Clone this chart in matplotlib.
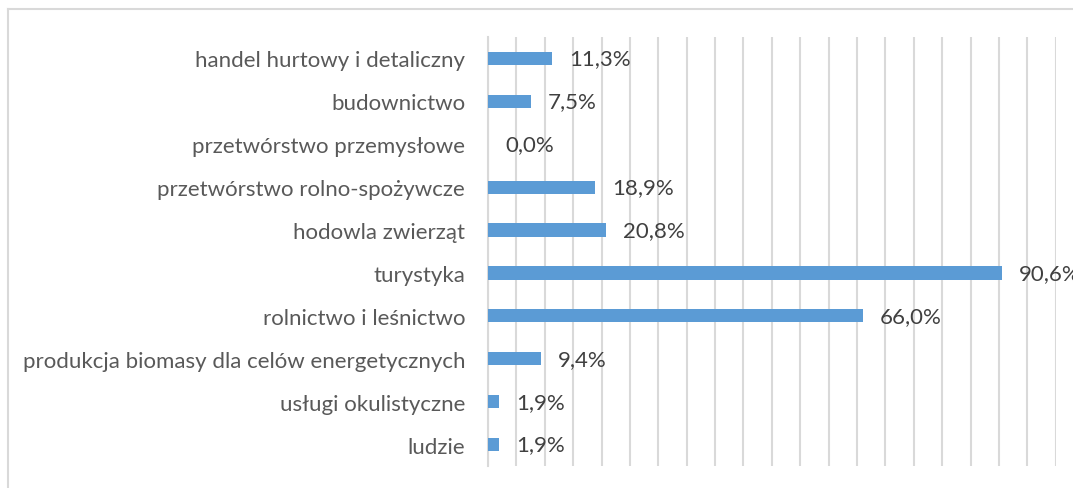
import matplotlib
matplotlib.use("Agg")
import matplotlib.pyplot as plt

categories = [
    "handel hurtowy i detaliczny",
    "budownictwo",
    "przetwórstwo przemysłowe",
    "przetwórstwo rolno-spożywcze",
    "hodowla zwierząt",
    "turystyka",
    "rolnictwo i leśnictwo",
    "produkcja biomasy dla celów energetycznych",
    "usługi okulistyczne",
    "ludzie",
]
values = [11.3, 7.5, 0.0, 18.9, 20.8, 90.6, 66.0, 9.4, 1.9, 1.9]
grid_ticks = list(range(0, 105, 5))

plt.rcParams["font.family"] = ["Lato", "DejaVu Sans"]

W, H = 1073, 489
fig = plt.figure(figsize=(W / 100, H / 100), dpi=100)
ax = fig.add_axes([488 / W, 1 - 467 / H, (1055.7 - 488) / W, (467 - 38) / H])

# outer chart frame (left and top edges visible)
fig.add_artist(plt.Line2D([8 / W, 1.2], [1 - 9.5 / H, 1 - 9.5 / H],
                          transform=fig.transFigure, color="#d9d9d9", lw=1.5))
fig.add_artist(plt.Line2D([8 / W, 8 / W], [-0.1, 1 - 9.5 / H],
                          transform=fig.transFigure, color="#d9d9d9", lw=1.5))

y = list(range(len(categories)))
ax.barh(y, values, height=0.31, color="#5b9bd5", zorder=3)
ax.set_ylim(len(categories) - 0.5, -0.5)
ax.set_xlim(0, 100)
ax.set_yticks(y)
ax.set_yticklabels(categories, fontsize=16, color="#595959")
ax.set_xticks(grid_ticks)
ax.tick_params(axis="x", bottom=False, labelbottom=False)
ax.tick_params(axis="y", length=0, pad=16.5)
ax.grid(axis="x", color="#d9d9d9", linewidth=1.5, zorder=0)
for s in ["top", "right", "bottom"]:
    ax.spines[s].set_visible(False)
ax.spines["left"].set_color("#d9d9d9")
ax.spines["left"].set_linewidth(1.5)

for yi, v in zip(y, values):
    ax.annotate(f"{v:.1f}%".replace(".", ","), xy=(v, yi), xytext=(17, 0),
                textcoords="offset pixels", va="center", ha="left",
                fontsize=16, color="#404040", annotation_clip=False, zorder=4)

fig.savefig("out.png", dpi=100, facecolor="white")
